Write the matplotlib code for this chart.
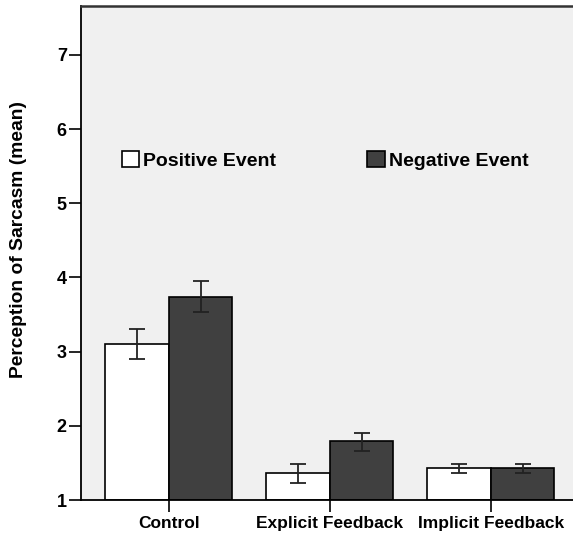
import numpy as np
import matplotlib.pyplot as plt

plt.rcParams['font.family'] = ['Liberation Sans', 'DejaVu Sans']
plt.rcParams['font.weight'] = 'bold'

# data
conditions = ["Control", "Explicit Feedback", "Implicit Feedback"]
positive_mean = [3.10, 1.36, 1.43]
positive_err_lo = [2.90, 1.23, 1.37]
positive_err_hi = [3.31, 1.49, 1.49]
negative_mean = [3.74, 1.79, 1.43]
negative_err_lo = [3.53, 1.66, 1.37]
negative_err_hi = [3.95, 1.91, 1.49]
yticks = [1, 2, 3, 4, 5, 6, 7]

fig = plt.figure(figsize=(5.73, 5.35), dpi=100)
ax = fig.add_axes([0.1408, 0.0654, 0.8592, 0.9234])
ax.set_facecolor('#f0f0f0')

x = np.arange(len(conditions))
w = 0.394
base = 1

# bars start at 1, the bottom of the axis
pos_h = np.array(positive_mean) - base
neg_h = np.array(negative_mean) - base
ax.bar(x - w / 2, pos_h, w, bottom=base, color='white', edgecolor='black',
       linewidth=1.2, label='Positive Event', zorder=2)
ax.bar(x + w / 2, neg_h, w, bottom=base, color='#404040', edgecolor='black',
       linewidth=1.2, label='Negative Event', zorder=2)

# error bars
pos_err = [np.array(positive_mean) - np.array(positive_err_lo),
           np.array(positive_err_hi) - np.array(positive_mean)]
neg_err = [np.array(negative_mean) - np.array(negative_err_lo),
           np.array(negative_err_hi) - np.array(negative_mean)]
ax.errorbar(x - w / 2, positive_mean, yerr=pos_err, fmt='none', ecolor='#222222',
            elinewidth=1.3, capsize=5.5, capthick=1.3, zorder=3)
ax.errorbar(x + w / 2, negative_mean, yerr=neg_err, fmt='none', ecolor='#222222',
            elinewidth=1.3, capsize=5.5, capthick=1.3, zorder=3)

ax.set_xlim(-0.548, 2.51)
ax.set_ylim(1, 7.66)
ax.set_xticks(x)
ax.set_xticklabels(conditions, fontsize=12.5, fontweight='bold')
ax.set_yticks(yticks)
ax.set_yticklabels([str(t) for t in yticks], fontsize=13, fontweight='bold')
ax.tick_params(axis='y', length=9, width=1.2, pad=1)
ax.tick_params(axis='x', length=8.5, width=1.2, pad=3)

ax.set_ylabel('Perception of Sarcasm (mean)', fontsize=13.9, fontweight='bold')
ax.yaxis.set_label_coords(-0.11, 0.528)

for side in ['left', 'bottom']:
    ax.spines[side].set_linewidth(1.3)
ax.spines['top'].set_linewidth(1.8)
ax.spines['top'].set_color('#333333')
ax.spines['right'].set_visible(False)

leg = ax.legend(loc='center left', bbox_to_anchor=(0.083, 0.688), ncol=2,
                frameon=False, handlelength=0.9, handleheight=0.9,
                handletextpad=0.2, columnspacing=4.7, borderpad=0, borderaxespad=0,
                prop={'weight': 'bold', 'size': 14})

fig.savefig('out.png', dpi=100)
